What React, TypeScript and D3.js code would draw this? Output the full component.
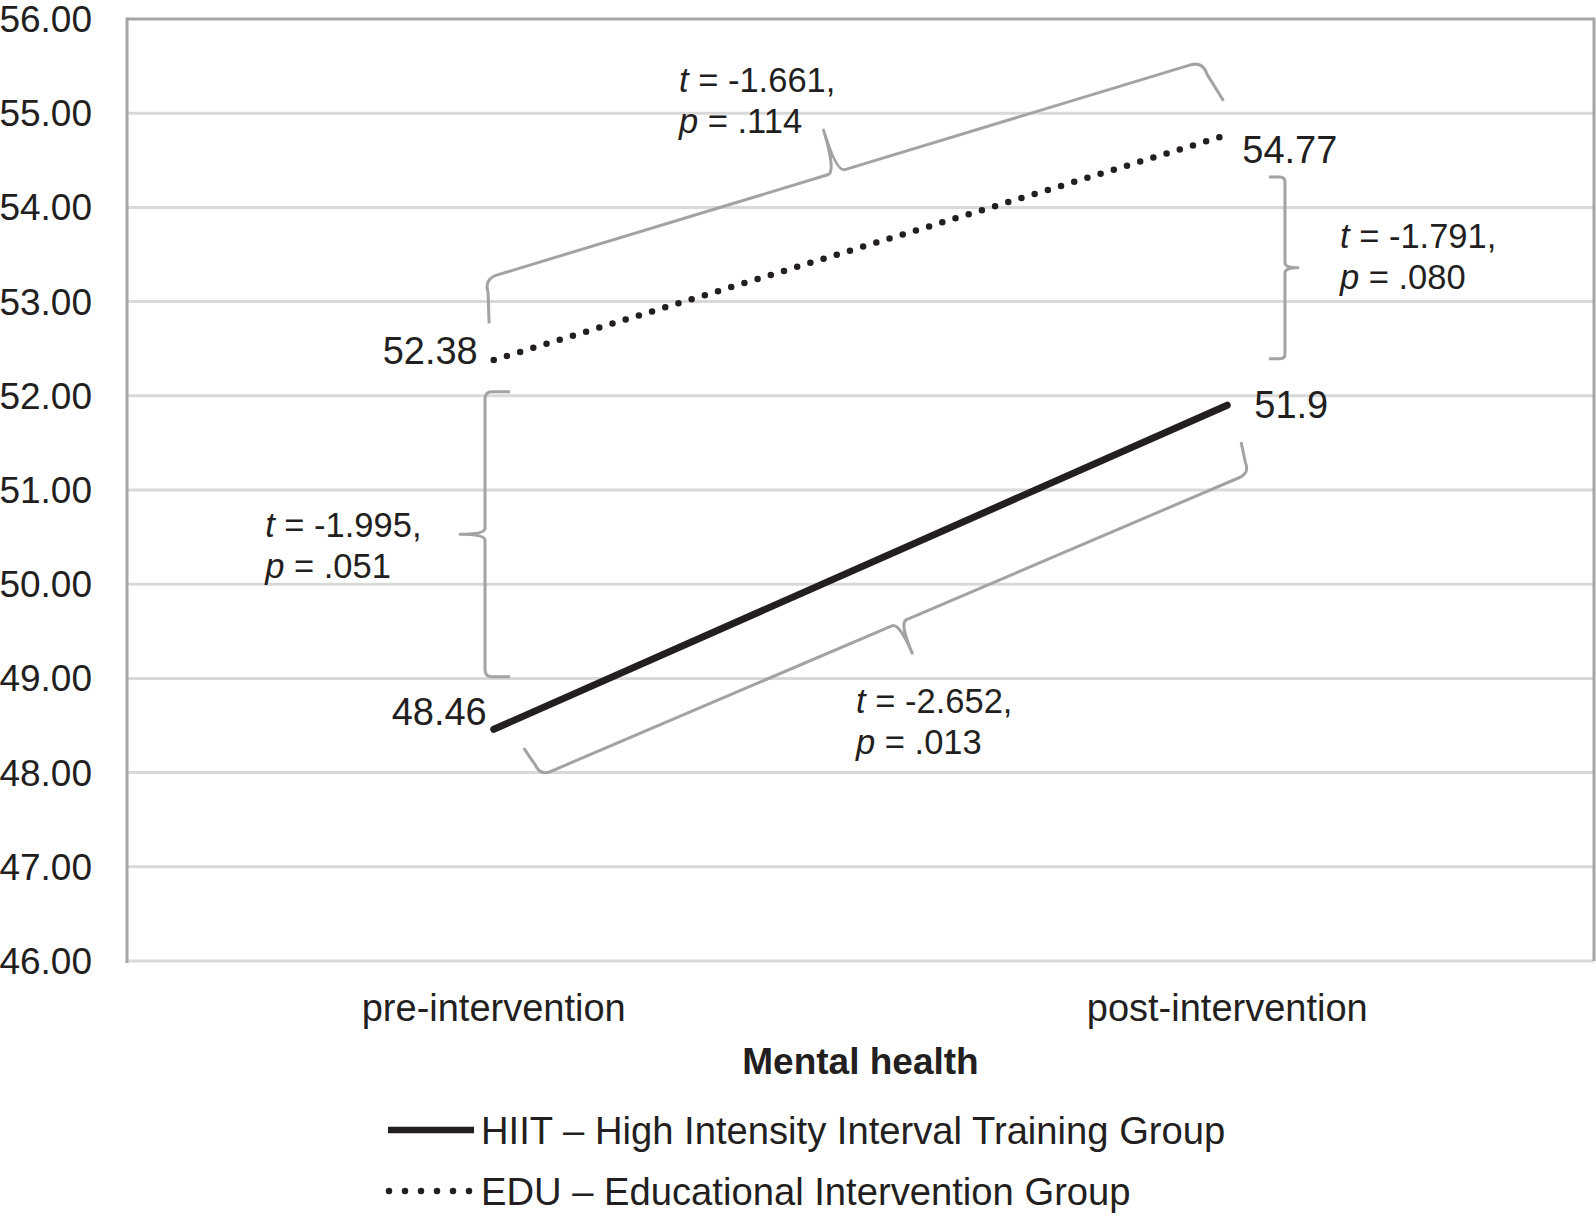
import React from "react";
import * as d3 from "d3";

// ---------- data ----------
const categories = ["pre-intervention", "post-intervention"];
const hiitValues = [48.46, 51.9];
const eduValues = [52.38, 54.77];
const yTicks = [46, 47, 48, 49, 50, 51, 52, 53, 54, 55, 56];
const seriesLabels = [
  "HIIT – High Intensity Interval Training Group",
  "EDU – Educational Intervention Group",
];
const xTitle = "Mental health";
const tStats = ["-1.661,", "-1.791,", "-1.995,", "-2.652,"];
const pStats = [".114", ".080", ".051", ".013"];

// ---------- layout ----------
const W = 1596;
const H = 1216;
const P = { left: 127, right: 1594, top: 19, bottom: 961 };
const FONT = "'Liberation Sans', Arial, Helvetica, sans-serif";
const INK = "#231f20";
const GRID = "#d9d9d9";
const FRAME = "#a6a6a6";
const BRACE = "#a3a3a3";

// brace geometry in data space (c: 0 = pre, 1 = post ; v: value)
const braceLayout = [
  { c0: -0.0133, v0: 53.24, c1: 0.967, v1: 55.554, s: 1, h: 44, t: 44, f: 0.49, r: 14, k: 9, e: 8 },
  { c0: 1.0787, v0: 54.323, c1: 1.0787, v1: 52.394, s: 1, h: 16, t: 13, f: 0.5, r: 5, k: 5, e: 0 },
  { c0: -0.0119, v0: 52.044, c1: -0.0119, v1: 49.018, s: -1, h: 25, t: 25, f: 0.5, r: 7, k: 6, e: 0 },
  { c0: 0.063, v0: 47.964, c1: 1.031, v1: 51.18, s: -1, h: 32, t: 33, f: 0.506, r: 12, k: 8, e: 4 },
];
const statTextLayout = [
  { c: 0.2526, v: 55.228 },
  { c: 1.1537, v: 53.566 },
  { c: -0.3116, v: 50.504 },
  { c: 0.494, v: 48.63 },
];
// value-label offsets [series][category] = [dx, dy, anchor]
const hiitLabelOffsets: [number, number, string][] = [
  [-7, -4, "end"],
  [27, 13, "start"],
];
const eduLabelOffsets: [number, number, string][] = [
  [-16, 4, "end"],
  [15, 28, "start"],
];

type Pt = [number, number];

function bracePath(p0: Pt, p1: Pt, s: number, h: number, t: number, f: number, r: number, k: number, e: number) {
  const dx = p1[0] - p0[0];
  const dy = p1[1] - p0[1];
  const len = Math.hypot(dx, dy);
  const u: Pt = [dx / len, dy / len];
  const n: Pt = [s * u[1], -s * u[0]];
  const add = (a: Pt, b: Pt, m: number): Pt => [a[0] + b[0] * m, a[1] + b[1] * m];
  const E0 = add(add(p0, n, -h), u, -e);
  const B0 = add(p0, n, -r);
  const A0 = add(p0, u, r);
  const M: Pt = [p0[0] + dx * f, p0[1] + dy * f];
  const L1 = add(M, u, -k);
  const T = add(M, n, t);
  const R1 = add(M, u, k);
  const A1 = add(p1, u, -r);
  const B1 = add(p1, n, -r);
  const E1 = add(add(p1, n, -h), u, e);
  const f2 = (p: Pt) => `${p[0].toFixed(2)},${p[1].toFixed(2)}`;
  return (
    `M${f2(E0)} L${f2(B0)} Q${f2(p0)} ${f2(A0)} L${f2(L1)} Q${f2(M)} ${f2(T)} ` +
    `Q${f2(M)} ${f2(R1)} L${f2(A1)} Q${f2(p1)} ${f2(B1)} L${f2(E1)}`
  );
}

export default function App() {
  const y = d3.scaleLinear().domain([46, 56]).range([P.bottom, P.top]);
  const x = d3.scalePoint<string>().domain(categories).range([P.left, P.right]).padding(0.5);
  const xc = d3
    .scaleLinear()
    .domain([0, 1])
    .range([x(categories[0]) as number, x(categories[1]) as number]);

  const line = d3
    .line<number>()
    .x((_, i) => x(categories[i]) as number)
    .y((d) => y(d));

  const series = [
    { values: hiitValues, offsets: hiitLabelOffsets, dotted: false },
    { values: eduValues, offsets: eduLabelOffsets, dotted: true },
  ];

  return (
    <svg
      width={W}
      height={H}
      viewBox={`0 0 ${W} ${H}`}
      style={{ position: "absolute", left: 0, top: 0, background: "#fff" }}
      fontFamily={FONT}
    >
      <rect x={0} y={0} width={W} height={H} fill="#fff" />
      {/* gridlines */}
      {yTicks
        .filter((t) => t !== 56)
        .map((t) => (
          <line key={t} x1={P.left} x2={P.right} y1={y(t)} y2={y(t)} stroke={GRID} strokeWidth={3} />
        ))}
      {/* frame */}
      <line x1={P.left} x2={P.right} y1={y(56)} y2={y(56)} stroke={FRAME} strokeWidth={3} />
      <line x1={P.right} x2={P.right} y1={y(56) - 1.5} y2={y(46)} stroke={FRAME} strokeWidth={3} />
      <line x1={P.left} x2={P.left} y1={y(56) - 1.5} y2={y(46) + 2} stroke={FRAME} strokeWidth={3} />

      {/* y tick labels */}
      {yTicks.map((t) => (
        <text key={t} x={92} y={y(t) + 13} textAnchor="end" fontSize={37} fill={INK}>
          {t.toFixed(2)}
        </text>
      ))}

      {/* category labels */}
      {categories.map((c) => (
        <text key={c} x={x(c)} y={1021} textAnchor="middle" fontSize={38} fill={INK}>
          {c}
        </text>
      ))}
      <text x={(P.left + P.right) / 2} y={1074} textAnchor="middle" fontSize={37} fontWeight="bold" fill={INK}>
        {xTitle}
      </text>

      {/* braces */}
      {braceLayout.map((b, i) => (
        <path
          key={i}
          d={bracePath([xc(b.c0), y(b.v0)], [xc(b.c1), y(b.v1)], b.s, b.h, b.t, b.f, b.r, b.k, b.e)}
          fill="none"
          stroke={BRACE}
          strokeWidth={3}
          strokeLinejoin="round"
        />
      ))}

      {/* stat annotations */}
      {statTextLayout.map((a, i) => (
        <g key={i} fontSize={34.5} fill={INK}>
          <text x={xc(a.c)} y={y(a.v)}>
            <tspan fontStyle="italic">t</tspan>
            <tspan>{" = " + tStats[i]}</tspan>
          </text>
          <text x={xc(a.c)} y={y(a.v) + 41}>
            <tspan fontStyle="italic">p</tspan>
            <tspan>{" = " + pStats[i]}</tspan>
          </text>
        </g>
      ))}

      {/* data lines */}
      {series.map((s, i) => (
        <path
          key={i}
          d={line(s.values) || ""}
          fill="none"
          stroke={INK}
          strokeWidth={s.dotted ? 6.5 : 7}
          strokeLinecap="round"
          strokeDasharray={s.dotted ? "0 13.8" : undefined}
        />
      ))}

      {/* value labels */}
      {series.map((s, i) =>
        s.values.map((v, j) => (
          <text
            key={`${i}-${j}`}
            x={(x(categories[j]) as number) + s.offsets[j][0]}
            y={y(v) + s.offsets[j][1]}
            textAnchor={s.offsets[j][2] as any}
            fontSize={38}
            fill={INK}
          >
            {String(v)}
          </text>
        ))
      )}

      {/* legend */}
      {seriesLabels.map((lab, i) => {
        const ly = i === 0 ? 1130 : 1191;
        return (
          <g key={lab}>
            <line
              x1={i === 0 ? 388 : 389}
              x2={i === 0 ? 474 : 470}
              y1={ly}
              y2={ly}
              stroke={INK}
              strokeWidth={6.5}
              strokeLinecap={i === 0 ? "butt" : "round"}
              strokeDasharray={i === 0 ? undefined : "0 16"}
            />
            <text x={481} y={ly + 13.5} fontSize={38.2} fill={INK}>
              {lab}
            </text>
          </g>
        );
      })}
    </svg>
  );
}
